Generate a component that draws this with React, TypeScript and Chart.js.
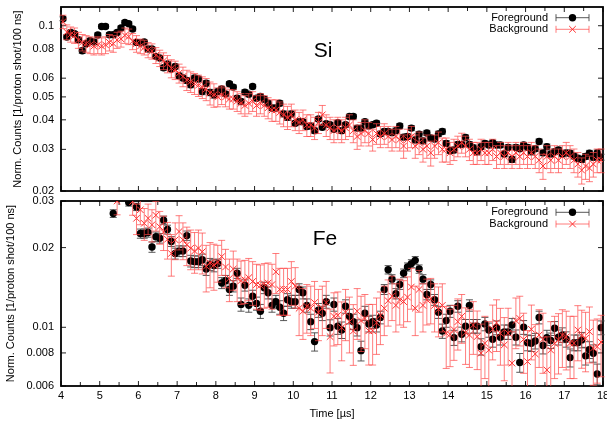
import React, { useEffect, useRef } from "react";
import { Chart, registerables } from "chart.js";

Chart.register(...registerables);

const FONT = '"Liberation Sans", Arial, Helvetica, sans-serif';

// ---- axes / categories ----
const T_FIRST = 4.05; // first time-bin centre [µs]
const T_STEP = 0.1; // bin width [µs]
const X_MIN = 4;
const X_MAX = 18;
const X_MAJOR_TICKS = [4, 5, 6, 7, 8, 9, 10, 11, 12, 13, 14, 15, 16, 17, 18];
const X_MINOR_TICKS = [4.5, 5.5, 6.5, 7.5, 8.5, 9.5, 10.5, 11.5, 12.5, 13.5, 14.5, 15.5, 16.5, 17.5];
const SI_Y_TICKS = [0.02, 0.03, 0.04, 0.05, 0.06, 0.08, 0.1];
const FE_Y_TICKS = [0.006, 0.008, 0.01, 0.02, 0.03];
const SI_Y_RANGE = [0.02, 0.12];
const FE_Y_RANGE = [0.006, 0.03];
const SERIES_NAMES = ["Foreground", "Background"];
const Y_TITLE = "Norm. Counts [1/proton shot/100 ns]";
const X_TITLE = "Time [µs]";

// ---- Si panel ----
const SI_FG = [
  0.107, 0.0896, 0.0937, 0.0925, 0.0872, 0.0784, 0.0839, 0.0864, 0.0853, 0.0913,
  0.0993, 0.0993, 0.0916, 0.0916, 0.0937, 0.0978, 0.1033, 0.102, 0.0968, 0.085,
  0.0845, 0.0853, 0.0797, 0.0797, 0.0742, 0.073, 0.0664, 0.069, 0.0656, 0.0672,
  0.0614, 0.0601, 0.0587, 0.0563, 0.0601, 0.0595, 0.0527, 0.0571, 0.0522, 0.051,
  0.0527, 0.054, 0.0515, 0.0568, 0.055, 0.0494, 0.0478, 0.0524, 0.0513, 0.0553,
  0.0494, 0.0502, 0.0489, 0.047, 0.0449, 0.0449, 0.047, 0.0424, 0.041, 0.0424,
  0.0387, 0.0393, 0.0393, 0.0375, 0.0377, 0.036, 0.0403, 0.0372, 0.0385, 0.0381,
  0.0365, 0.0389, 0.036, 0.0381, 0.0413, 0.0413, 0.0369, 0.0369, 0.0393, 0.0377,
  0.0381, 0.0387, 0.0349, 0.0357, 0.0357, 0.0353, 0.036, 0.0377, 0.0338, 0.034,
  0.0369, 0.0329, 0.0348, 0.0326, 0.0352, 0.0335, 0.0332, 0.0349, 0.0357, 0.0318,
  0.0296, 0.0298, 0.0315, 0.0315, 0.0337, 0.0315, 0.0305, 0.0293, 0.0308, 0.0318,
  0.0313, 0.032, 0.0313, 0.0313, 0.0287, 0.0306, 0.0272, 0.0306, 0.0302, 0.0313,
  0.0306, 0.0293, 0.0302, 0.0324, 0.029, 0.0308, 0.0287, 0.0293, 0.0298, 0.0287,
  0.029, 0.0289, 0.0281, 0.0275, 0.0272, 0.028, 0.0289, 0.0278, 0.029, 0.0278,
];
const SI_FG_ERR = [
  0.002, 0.002, 0.002, 0.002, 0.002, 0.002, 0.002, 0.002, 0.002, 0.002,
  0.002, 0.002, 0.002, 0.002, 0.002, 0.002, 0.002, 0.002, 0.002, 0.002,
  0.0016, 0.0016, 0.0016, 0.0016, 0.0016, 0.0016, 0.0016, 0.0016, 0.0016, 0.0016,
  0.0016, 0.0016, 0.0016, 0.0016, 0.0016, 0.0016, 0.0016, 0.0016, 0.0016, 0.0016,
  0.0012, 0.0012, 0.0012, 0.0012, 0.0012, 0.0012, 0.0012, 0.0012, 0.0012, 0.0012,
  0.0012, 0.0012, 0.0012, 0.0012, 0.0012, 0.0012, 0.0012, 0.0012, 0.0012, 0.0012,
  0.0009, 0.0009, 0.0009, 0.0009, 0.0009, 0.0009, 0.0009, 0.0009, 0.0009, 0.0009,
  0.0009, 0.0009, 0.0009, 0.0009, 0.0009, 0.0009, 0.0009, 0.0009, 0.0009, 0.0009,
  0.0009, 0.0009, 0.0009, 0.0009, 0.0009, 0.0009, 0.0009, 0.0009, 0.0009, 0.0009,
  0.0009, 0.0009, 0.0009, 0.0009, 0.0009, 0.0009, 0.0009, 0.0009, 0.0009, 0.0009,
  0.0008, 0.0008, 0.0008, 0.0008, 0.0008, 0.0008, 0.0008, 0.0008, 0.0008, 0.0008,
  0.0008, 0.0008, 0.0008, 0.0008, 0.0008, 0.0008, 0.0008, 0.0008, 0.0008, 0.0008,
  0.0008, 0.0008, 0.0008, 0.0008, 0.0008, 0.0008, 0.0008, 0.0008, 0.0008, 0.0008,
  0.0008, 0.0008, 0.0008, 0.0008, 0.0008, 0.0008, 0.0008, 0.0008, 0.0008, 0.0008,
];
const SI_BG = [
  0.104, 0.094, 0.092, 0.091, 0.087, 0.085, 0.084, 0.083, 0.082, 0.083,
  0.082, 0.083, 0.085, 0.084, 0.087, 0.088, 0.091, 0.09, 0.086, 0.084,
  0.082, 0.081, 0.079, 0.078, 0.075, 0.073, 0.071, 0.069, 0.066, 0.065,
  0.063, 0.061, 0.059, 0.058, 0.057, 0.056, 0.055, 0.054, 0.052, 0.051,
  0.05, 0.051, 0.05, 0.049, 0.049, 0.048, 0.047, 0.046, 0.047, 0.048,
  0.046, 0.047, 0.046, 0.045, 0.044, 0.044, 0.043, 0.042, 0.041, 0.042,
  0.04, 0.039, 0.04, 0.038, 0.038, 0.037, 0.039, 0.042, 0.038, 0.037,
  0.036, 0.037, 0.036, 0.037, 0.038, 0.036, 0.034, 0.035, 0.036, 0.035,
  0.033, 0.035, 0.034, 0.035, 0.034, 0.033, 0.034, 0.033, 0.031, 0.033,
  0.034, 0.031, 0.032, 0.03, 0.031, 0.029, 0.031, 0.032, 0.03, 0.03,
  0.029, 0.03, 0.031, 0.032, 0.031, 0.03, 0.029, 0.029, 0.03, 0.029,
  0.029, 0.03, 0.028, 0.029, 0.028, 0.029, 0.028, 0.029, 0.028, 0.029,
  0.028, 0.029, 0.028, 0.027, 0.0255, 0.028, 0.027, 0.028, 0.027, 0.028,
  0.029, 0.028, 0.027, 0.026, 0.0245, 0.0255, 0.025, 0.026, 0.027, 0.027,
];
const SI_BG_ERR = [
  0.0068, 0.0068, 0.0068, 0.0068, 0.0068, 0.0068, 0.0068, 0.0068, 0.0068, 0.0068,
  0.0068, 0.0068, 0.0068, 0.0068, 0.0068, 0.0068, 0.0068, 0.0068, 0.0068, 0.0068,
  0.0058, 0.0058, 0.0058, 0.0058, 0.0058, 0.0058, 0.0058, 0.0058, 0.0058, 0.0058,
  0.0058, 0.0058, 0.0058, 0.0058, 0.0058, 0.0058, 0.0058, 0.0058, 0.0058, 0.0058,
  0.0046, 0.0046, 0.0046, 0.0046, 0.0046, 0.0046, 0.0046, 0.0046, 0.0046, 0.0046,
  0.0046, 0.0046, 0.0046, 0.0046, 0.0046, 0.0046, 0.0046, 0.0046, 0.0046, 0.0046,
  0.004, 0.004, 0.004, 0.004, 0.004, 0.004, 0.004, 0.004, 0.004, 0.004,
  0.004, 0.004, 0.004, 0.004, 0.004, 0.004, 0.004, 0.004, 0.004, 0.004,
  0.0035, 0.0035, 0.0035, 0.0035, 0.0035, 0.0035, 0.0035, 0.0035, 0.0035, 0.0035,
  0.0035, 0.0035, 0.0035, 0.0035, 0.0035, 0.0035, 0.0035, 0.0035, 0.0035, 0.0035,
  0.0031, 0.0031, 0.0031, 0.0031, 0.0031, 0.0031, 0.0031, 0.0031, 0.0031, 0.0031,
  0.0031, 0.0031, 0.0031, 0.0031, 0.0031, 0.0031, 0.0031, 0.0031, 0.0031, 0.0031,
  0.0031, 0.0031, 0.0031, 0.0031, 0.0031, 0.0031, 0.0031, 0.0031, 0.0031, 0.0031,
  0.0031, 0.0031, 0.0031, 0.0031, 0.0031, 0.0031, 0.0031, 0.0031, 0.0031, 0.0031,
];

// ---- Fe panel (null = outside the plotted range) ----
const FE_FG = [
  null, null, null, null, null, null, null, null, null, null,
  null, null, null, 0.0269, null, null, null, 0.0296, null, 0.0285,
  0.0226, 0.0226, 0.0228, 0.0201, 0.022, 0.0217, 0.0254, 0.0234, 0.0211, 0.019,
  0.0194, 0.0194, 0.0222, 0.0178, 0.0177, 0.0177, 0.018, 0.0166, 0.0173, 0.0171,
  0.0174, 0.0147, 0.015, 0.0139, 0.0143, 0.016, 0.0122, 0.0144, 0.0121, 0.0131,
  0.0123, 0.0115, 0.0141, 0.0135, 0.0121, 0.0125, 0.0119, 0.0113, 0.0127, 0.0125,
  0.0125, 0.0139, 0.0135, 0.0121, 0.0105, 0.00883, 0.0116, 0.0113, 0.0125, 0.00997,
  0.0122, 0.0101, 0.00977, 0.012, 0.011, 0.0105, 0.00997, 0.00816, 0.0113, 0.0103,
  0.0105, 0.0102, 0.0109, 0.0139, 0.0165, 0.0152, 0.0134, 0.0145, 0.016, 0.0169,
  0.0174, 0.0179, 0.0166, 0.0152, 0.0133, 0.0145, 0.0127, 0.0114, 0.00968, 0.0106,
  0.0115, 0.00914, 0.012, 0.00941, 0.0101, 0.0121, 0.0101, 0.0101, 0.00845, 0.0103,
  0.00977, 0.00901, 0.00997, 0.00917, 0.0096, 0.0096, 0.0102, 0.00917, 0.00736, 0.01,
  0.00875, 0.0087, 0.00888, 0.0109, 0.00853, 0.00914, 0.00891, 0.00991, 0.00917, 0.00935,
  0.00901, 0.00768, 0.00875, 0.00875, 0.00896, 0.0078, 0.00822, 0.00798, 0.00666, 0.00997,
];
const FE_FG_ERR = [
  0.0009, 0.0009, 0.0009, 0.0009, 0.0009, 0.0009, 0.0009, 0.0009, 0.0009, 0.0009,
  0.0009, 0.0009, 0.0009, 0.0009, 0.0009, 0.0009, 0.0009, 0.0009, 0.0009, 0.0009,
  0.0009, 0.0009, 0.0009, 0.0009, 0.0009, 0.0009, 0.0009, 0.0009, 0.0009, 0.0009,
  0.0009, 0.0009, 0.0009, 0.0009, 0.0009, 0.0009, 0.0009, 0.0009, 0.0009, 0.0009,
  0.0007, 0.0007, 0.0007, 0.0007, 0.0007, 0.0007, 0.0007, 0.0007, 0.0007, 0.0007,
  0.0007, 0.0007, 0.0007, 0.0007, 0.0007, 0.0007, 0.0007, 0.0007, 0.0007, 0.0007,
  0.0007, 0.0007, 0.0007, 0.0007, 0.0007, 0.0007, 0.0007, 0.0007, 0.0007, 0.0007,
  0.0007, 0.0007, 0.0007, 0.0007, 0.0007, 0.0007, 0.0007, 0.0007, 0.0007, 0.0007,
  0.0006, 0.0006, 0.0006, 0.0006, 0.0006, 0.0006, 0.0006, 0.0006, 0.0006, 0.0006,
  0.0006, 0.0006, 0.0006, 0.0006, 0.0006, 0.0006, 0.0006, 0.0006, 0.0006, 0.0006,
  0.0006, 0.0006, 0.0006, 0.0006, 0.0006, 0.0006, 0.0006, 0.0006, 0.0006, 0.0006,
  0.0006, 0.0006, 0.0006, 0.0006, 0.0006, 0.0006, 0.0006, 0.0006, 0.0006, 0.0006,
  0.0006, 0.0006, 0.0006, 0.0006, 0.0006, 0.0006, 0.0006, 0.0006, 0.0006, 0.0006,
  0.0006, 0.0006, 0.0006, 0.0006, 0.0006, 0.0006, 0.0006, 0.0006, 0.0006, 0.0006,
];
const FE_BG = [
  null, null, null, null, null, null, null, null, null, null,
  null, null, null, null, 0.03, null, null, null, 0.0299, 0.0258,
  0.0278, 0.0247, 0.0258, 0.0244, 0.0265, 0.024, 0.0229, 0.0215, 0.019, 0.0214,
  0.023, 0.0214, 0.0205, 0.0199, 0.0194, 0.0199, 0.0193, 0.017, 0.0175, 0.0172,
  0.0176, 0.0185, 0.0169, 0.0153, 0.0166, 0.0153, 0.015, 0.0151, 0.0154, 0.0149,
  0.0145, 0.0144, 0.0146, 0.0147, 0.0145, 0.0162, 0.0139, 0.0139, 0.0139, 0.0149,
  0.0143, 0.0118, 0.0115, 0.012, 0.0118, 0.0124, 0.0114, 0.0118, 0.0124, 0.00922,
  0.011, 0.0111, 0.00997, 0.0114, 0.0105, 0.00968, 0.0115, 0.0106, 0.0108, 0.0097,
  0.0097, 0.0104, 0.0111, 0.0118, 0.0126, 0.0131, 0.0121, 0.0127, 0.0125, 0.013,
  0.0142, 0.0118, 0.0139, 0.0121, 0.0127, 0.0128, 0.0121, 0.0117, 0.0121, 0.00949,
  0.0094, 0.0098, 0.0105, 0.011, 0.00954, 0.00935, 0.0102, 0.00922, 0.00798, 0.0087,
  0.0082, 0.00983, 0.0104, 0.00949, 0.00858, 0.0095, 0.00732, 0.0106, 0.0108, 0.009,
  0.00742, 0.00983, 0.00793, 0.00935, 0.009, 0.0069, 0.0082, 0.0087, 0.00896, 0.00935,
  0.0092, 0.0087, 0.0087, 0.00977, 0.0093, 0.00909, 0.00963, 0.00834, 0.00845, 0.0088,
];
const FE_BG_ERR = [
  0.0034, 0.0034, 0.0034, 0.0034, 0.0034, 0.0034, 0.0034, 0.0034, 0.0034, 0.0034,
  0.0034, 0.0034, 0.0034, 0.0034, 0.0034, 0.0034, 0.0034, 0.0034, 0.0034, 0.0034,
  0.0034, 0.0034, 0.0034, 0.0034, 0.0034, 0.0034, 0.0034, 0.0034, 0.0034, 0.0034,
  0.0034, 0.0034, 0.0034, 0.0034, 0.0034, 0.0034, 0.0034, 0.0034, 0.0034, 0.0034,
  0.0028, 0.0028, 0.0028, 0.0028, 0.0028, 0.0028, 0.0028, 0.0028, 0.0028, 0.0028,
  0.0028, 0.0028, 0.0028, 0.0028, 0.0028, 0.0028, 0.0028, 0.0028, 0.0028, 0.0028,
  0.0025, 0.0025, 0.0025, 0.0025, 0.0025, 0.0025, 0.0025, 0.0025, 0.0025, 0.0025,
  0.0025, 0.0025, 0.0025, 0.0025, 0.0025, 0.0025, 0.0025, 0.0025, 0.0025, 0.0025,
  0.0025, 0.0025, 0.0025, 0.0025, 0.0025, 0.0025, 0.0025, 0.0025, 0.0025, 0.0025,
  0.0025, 0.0025, 0.0025, 0.0025, 0.0025, 0.0025, 0.0025, 0.0025, 0.0025, 0.0025,
  0.0023, 0.0023, 0.0023, 0.0023, 0.0023, 0.0023, 0.0023, 0.0023, 0.0023, 0.0023,
  0.0023, 0.0023, 0.0023, 0.0023, 0.0023, 0.0023, 0.0023, 0.0023, 0.0023, 0.0023,
  0.0023, 0.0023, 0.0023, 0.0023, 0.0023, 0.0023, 0.0023, 0.0023, 0.0023, 0.0023,
  0.0023, 0.0023, 0.0023, 0.0023, 0.0023, 0.0023, 0.0023, 0.0023, 0.0023, 0.0023,
];

// ---- styles ----
const FG_COLOR = "#000000";
const FG_ERR_COLOR = "rgba(70,70,70,0.9)";
const BG_COLOR = "#ff3030";
const BG_ERR_COLOR = "rgba(255,70,70,0.7)";
const CANVAS_W = 625;
const CANVAS_H = 426;

function toPoints(vals: (number | null)[], errs: number[]) {
  const pts: any[] = [];
  vals.forEach((v, i) => {
    if (v == null) return;
    pts.push({ x: +(T_FIRST + i * T_STEP).toFixed(2), y: v, e: errs[i] });
  });
  return pts;
}

const errorBarPlugin = {
  id: "errbars",
  beforeDatasetDraw(chart: any, args: any) {
    const ds: any = chart.data.datasets[args.index];
    if (!ds.errorColor) return;
    const meta = args.meta;
    const ys = chart.scales.y;
    const a = chart.chartArea;
    const ctx = chart.ctx;
    const cap = 3.5;
    ctx.save();
    ctx.beginPath();
    ctx.rect(a.left - 5, a.top, a.right - a.left + 10, a.bottom - a.top);
    ctx.clip();
    ctx.strokeStyle = ds.errorColor;
    ctx.lineWidth = 1;
    ctx.beginPath();
    meta.data.forEach((el: any, j: number) => {
      const p = ds.data[j];
      if (!p || p.y == null) return;
      const x = el.x;
      const yHi = ys.getPixelForValue(p.y + p.e);
      const lo = p.y - p.e;
      const yLo = lo > 0 ? ys.getPixelForValue(lo) : a.bottom + 20;
      ctx.moveTo(x, yHi);
      ctx.lineTo(x, yLo);
      ctx.moveTo(x - cap, yHi);
      ctx.lineTo(x + cap, yHi);
      ctx.moveTo(x - cap, yLo);
      ctx.lineTo(x + cap, yLo);
    });
    ctx.stroke();
    ctx.restore();
  },
};

const decorPlugin = {
  id: "decor",
  beforeDatasetsDraw(chart: any, _args: any, opts: any) {
    const ctx = chart.ctx;
    const a = chart.chartArea;
    const xs = chart.scales.x;
    const ys = chart.scales.y;
    ctx.save();
    ctx.strokeStyle = "#222";
    ctx.lineWidth = 1;
    ctx.beginPath();
    const xTick = (v: number, len: number) => {
      const px = xs.getPixelForValue(v);
      ctx.moveTo(px, a.bottom);
      ctx.lineTo(px, a.bottom - len);
      ctx.moveTo(px, a.top);
      ctx.lineTo(px, a.top + len);
    };
    X_MAJOR_TICKS.forEach((v) => xTick(v, 5));
    X_MINOR_TICKS.forEach((v) => xTick(v, 4));
    opts.yTicks.forEach((v: number) => {
      const py = ys.getPixelForValue(v);
      ctx.moveTo(a.left, py);
      ctx.lineTo(a.left + 5, py);
      ctx.moveTo(a.right, py);
      ctx.lineTo(a.right - 5, py);
    });
    ctx.stroke();
    ctx.strokeStyle = "#000";
    ctx.lineWidth = 1.8;
    ctx.strokeRect(a.left, a.top, a.right - a.left, a.bottom - a.top);
    ctx.restore();
  },
  afterDatasetsDraw(chart: any, _args: any, opts: any) {
    const ctx = chart.ctx;
    const a = chart.chartArea;
    ctx.save();
    // panel label
    ctx.font = `21px ${FONT}`;
    ctx.fillStyle = "#000";
    ctx.textAlign = "center";
    ctx.textBaseline = "alphabetic";
    ctx.fillText(opts.label, opts.labelX, a.top + opts.labelBaseline);
    // legend
    const x0 = a.right - 47;
    const x1 = a.right - 14;
    const xm = (x0 + x1) / 2;
    SERIES_NAMES.forEach((name, k) => {
      const yy = a.top + opts.legendRows[k];
      ctx.font = `11px ${FONT}`;
      ctx.fillStyle = "#000";
      ctx.textAlign = "right";
      ctx.textBaseline = "middle";
      ctx.fillText(name, a.right - 55, yy);
      ctx.strokeStyle = k === 0 ? FG_ERR_COLOR : BG_ERR_COLOR;
      ctx.lineWidth = 1;
      ctx.beginPath();
      ctx.moveTo(x0, yy);
      ctx.lineTo(x1, yy);
      ctx.moveTo(x0, yy - 3.5);
      ctx.lineTo(x0, yy + 3.5);
      ctx.moveTo(x1, yy - 3.5);
      ctx.lineTo(x1, yy + 3.5);
      ctx.stroke();
      if (k === 0) {
        ctx.fillStyle = FG_COLOR;
        ctx.beginPath();
        ctx.arc(xm, yy, 3.7, 0, Math.PI * 2);
        ctx.fill();
      } else {
        ctx.strokeStyle = BG_COLOR;
        ctx.beginPath();
        ctx.moveTo(xm - 3.3, yy - 3.3);
        ctx.lineTo(xm + 3.3, yy + 3.3);
        ctx.moveTo(xm - 3.3, yy + 3.3);
        ctx.lineTo(xm + 3.3, yy - 3.3);
        ctx.stroke();
      }
    });
    ctx.restore();
  },
};

function makeConfig(p: any) {
  const font = { family: FONT, size: 11 };
  const xScale: any = {
    type: "linear",
    min: X_MIN,
    max: X_MAX,
    display: p.showX,
    afterBuildTicks: (s: any) => {
      s.ticks = X_MAJOR_TICKS.map((v) => ({ value: v }));
    },
    ticks: { font, color: "#000", padding: 3, maxRotation: 0, autoSkip: false, callback: (v: any) => String(v) },
    grid: { display: false, drawTicks: false },
    border: { display: false },
    title: { display: p.showX, text: X_TITLE, font, color: "#000", padding: { top: 0, bottom: 0 } },
  };
  if (p.showX) {
    xScale.afterFit = (s: any) => {
      s.height = 35;
      s.paddingLeft = 0;
      s.paddingRight = 0;
    };
  }
  return {
    type: "scatter",
    data: {
      datasets: [
        {
          label: SERIES_NAMES[0],
          data: toPoints(p.fg, p.fgErr),
          showLine: false,
          pointStyle: "circle",
          pointRadius: 3.7,
          pointBackgroundColor: FG_COLOR,
          pointBorderColor: FG_COLOR,
          pointBorderWidth: 0,
          errorColor: FG_ERR_COLOR,
          order: 2,
        },
        {
          label: SERIES_NAMES[1],
          data: toPoints(p.bg, p.bgErr),
          showLine: false,
          pointStyle: "crossRot",
          pointRadius: 4.6,
          pointBorderColor: BG_COLOR,
          pointBackgroundColor: BG_COLOR,
          pointBorderWidth: 1,
          errorColor: BG_ERR_COLOR,
          order: 1,
        },
      ],
    },
    options: {
      responsive: false,
      animation: false,
      devicePixelRatio: 1,
      events: [],
      layout: { padding: p.padding },
      scales: {
        x: xScale,
        y: {
          type: "logarithmic",
          min: p.yRange[0],
          max: p.yRange[1],
          afterBuildTicks: (s: any) => {
            s.ticks = p.yTicks.map((v: number) => ({ value: v }));
          },
          ticks: { font, color: "#000", padding: 7, autoSkip: false, callback: (v: any) => String(v) },
          grid: { display: false, drawTicks: false },
          border: { display: false },
          title: { display: true, text: Y_TITLE, font, color: "#000", padding: { top: p.yTitlePad, bottom: 0 } },
          afterFit: (s: any) => {
            s.width = 61;
            s.paddingTop = 0;
            s.paddingBottom = 0;
          },
        },
      },
      plugins: {
        legend: { display: false },
        tooltip: { enabled: false },
        decor: {
          yTicks: p.yTicks,
          label: p.label,
          labelX: p.labelX,
          labelBaseline: p.labelBaseline,
          legendRows: p.legendRows,
        },
      },
    },
    plugins: [errorBarPlugin, decorPlugin],
  } as any;
}

const PANELS = [
  {
    key: "si",
    fg: SI_FG, fgErr: SI_FG_ERR, bg: SI_BG, bgErr: SI_BG_ERR,
    yTicks: SI_Y_TICKS, yRange: SI_Y_RANGE,
    showX: false,
    padding: { left: 0, top: 7, right: 22, bottom: 235 },
    yTitlePad: 11,
    label: "Si", labelX: 323, labelBaseline: 50,
    legendRows: [10.7, 22.3],
  },
  {
    key: "fe",
    fg: FE_FG, fgErr: FE_FG_ERR, bg: FE_BG, bgErr: FE_BG_ERR,
    yTicks: FE_Y_TICKS, yRange: FE_Y_RANGE,
    showX: true,
    padding: { left: 0, top: 201, right: 22, bottom: 5 },
    yTitlePad: 4.5,
    label: "Fe", labelX: 325, labelBaseline: 43.5,
    legendRows: [11.3, 23],
  },
];

function Panel({ p }: { p: any }) {
  const ref = useRef<HTMLCanvasElement | null>(null);
  useEffect(() => {
    if (!ref.current) return;
    const chart = new Chart(ref.current, makeConfig(p));
    return () => chart.destroy();
  }, [p]);
  return (
    <canvas
      ref={ref}
      width={CANVAS_W}
      height={CANVAS_H}
      style={{ position: "absolute", left: 0, top: 0, width: CANVAS_W, height: CANVAS_H }}
    />
  );
}

export default function App() {
  return (
    <div
      style={{
        position: "fixed",
        left: 0,
        top: 0,
        width: 607,
        height: 426,
        overflow: "hidden",
        background: "#fff",
      }}
    >
      {PANELS.map((p) => (
        <Panel key={p.key} p={p} />
      ))}
    </div>
  );
}
